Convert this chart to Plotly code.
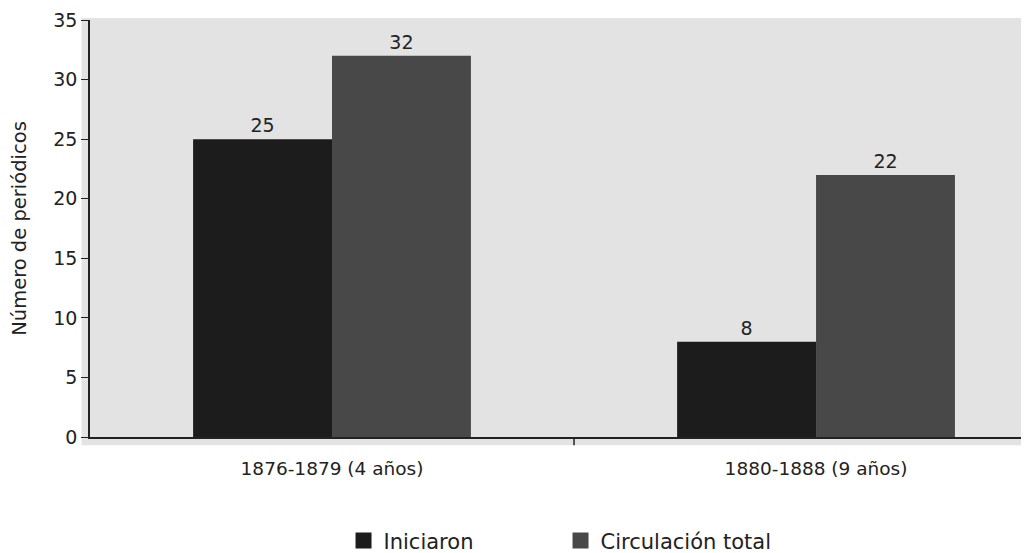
import plotly.graph_objects as go

categorias = ['1876-1879 (4 años)', '1880-1888 (9 años)']
iniciaron = [25, 8]
circulacion = [32, 22]
y_ticks = [0, 5, 10, 15, 20, 25, 30, 35]

FONT = 'DejaVu Sans'
C_INI = '#1c1c1c'
C_CIR = '#484848'

fig = go.Figure()
fig.add_trace(go.Bar(x=[0, 1], y=iniciaron, name='Iniciaron', marker=dict(color=C_INI, line=dict(width=0)),
                     text=iniciaron, textposition='outside', textfont=dict(size=19, color='#222'),
                     cliponaxis=False, showlegend=False))
fig.add_trace(go.Bar(x=[0, 1], y=circulacion, name='Circulación total', marker=dict(color=C_CIR, line=dict(width=0)),
                     text=circulacion, textposition='outside', textfont=dict(size=19, color='#222'),
                     cliponaxis=False, showlegend=False))
# legend entries with bigger square swatches
for nm, col in [('Iniciaron', C_INI), ('Circulación total', C_CIR)]:
    fig.add_trace(go.Scatter(x=[None], y=[None], mode='markers', name=nm,
                             marker=dict(symbol='square', size=16, color=col)))

# gray panel reaching a bit past the axes
fig.add_shape(type='rect', xref='paper', yref='paper', x0=-0.009, x1=1.0, y0=-0.02, y1=1.005,
              fillcolor='#e3e3e3', line=dict(width=0), layer='below')

# page body has an 8px margin, so the figure is sized to fit the window
fig.update_layout(
    width=1021, height=545,
    margin=dict(l=82, r=0, t=12, b=116, autoexpand=False),
    paper_bgcolor='white', plot_bgcolor='rgba(0,0,0,0)',
    font=dict(family=FONT, color='#222'),
    barmode='group', bargap=0.426, bargroupgap=0,
    showlegend=True,
    legend=dict(orientation='h', x=0.27, xanchor='left', y=-0.2, yanchor='top',
                font=dict(size=21, color='#222'), itemwidth=30, tracegroupgap=0,
                entrywidth=172, entrywidthmode='pixels'),
    xaxis=dict(range=[-0.5, 1.44], tickvals=[0, 1], ticktext=categorias, showgrid=False,
               showline=True, linecolor='#222', linewidth=1.5, zeroline=False, automargin=False,
               tickfont=dict(size=18.5, family=FONT), ticks='', ticklabelstandoff=14),
    yaxis=dict(range=[0, 35], tickvals=y_ticks, showgrid=False, zeroline=False, automargin=False,
               showline=True, linecolor='#222', linewidth=1.5, ticks='outside', ticklen=7,
               tickcolor='#222', tickfont=dict(size=19, family=FONT),
               title=dict(text='Número de periódicos', font=dict(size=19.5, family=FONT), standoff=23)),
)
# divider tick between the two periods on the x-axis
fig.add_shape(type='line', xref='x', yref='paper', x0=0.5, x1=0.5, y0=0, y1=-0.02,
              line=dict(color='#222', width=1.5))

# hide scrollbars so the panel runs to the window edge
fig.write_html('out.html', post_script="document.documentElement.style.overflow='hidden';document.body.style.overflow='hidden';")
